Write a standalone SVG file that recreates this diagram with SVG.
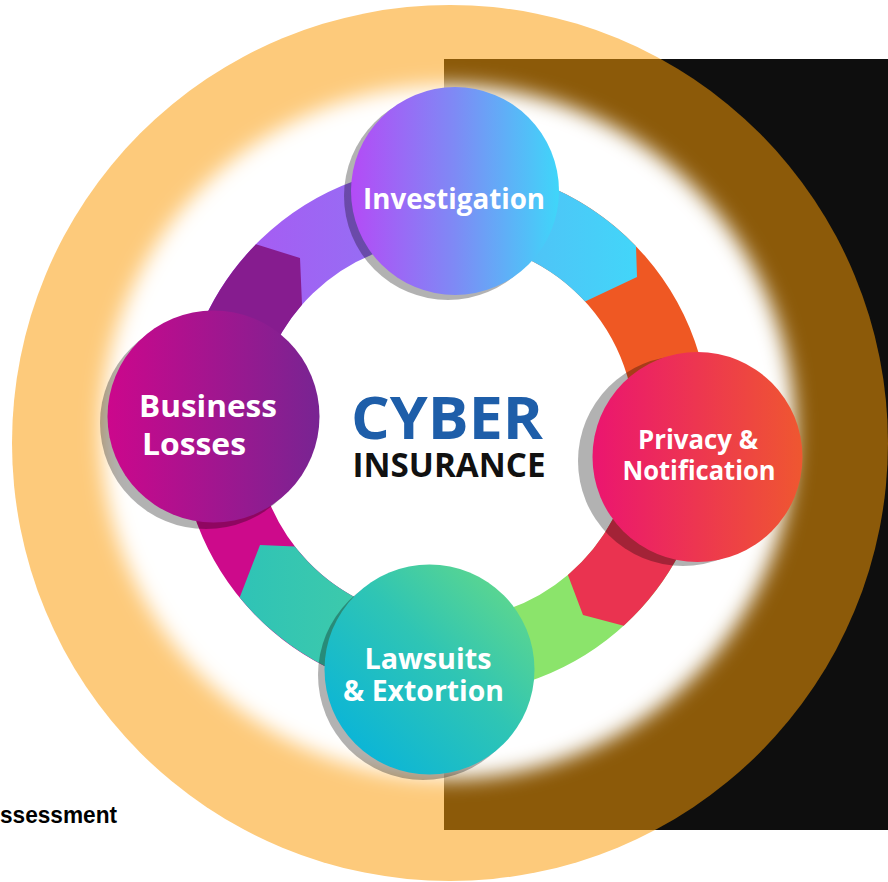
<svg xmlns="http://www.w3.org/2000/svg" width="888" height="882" viewBox="0 0 888 882">
  <defs>
    <style>
      .lbl { font-family: "Open Sans", "Liberation Sans", sans-serif; font-weight: 700; fill: #ffffff; }
      .ctr { font-family: "Open Sans", "Liberation Sans", sans-serif; font-weight: 700; }
      .shadow { fill: #000000; fill-opacity: 0.3; }
    </style>
    <clipPath id="rectClip"><rect x="444" y="59" width="444" height="771"/></clipPath>
    <filter id="soft" x="-20%" y="-20%" width="140%" height="140%"><feGaussianBlur stdDeviation="10"/></filter>
    <linearGradient id="gInv" x1="0" y1="0" x2="1" y2="0">
      <stop offset="0" stop-color="#B44BF6"/>
      <stop offset="0.5" stop-color="#7E8AF5"/>
      <stop offset="1" stop-color="#3FD6F9"/>
    </linearGradient>
    <linearGradient id="gBus" x1="0" y1="0" x2="1" y2="0">
      <stop offset="0" stop-color="#CC078C"/>
      <stop offset="1" stop-color="#782492"/>
    </linearGradient>
    <linearGradient id="gPriv" x1="0" y1="0" x2="1" y2="0">
      <stop offset="0" stop-color="#EB1570"/>
      <stop offset="1" stop-color="#EF5730"/>
    </linearGradient>
    <linearGradient id="gLaw" x1="0" y1="1" x2="1" y2="0">
      <stop offset="0" stop-color="#00B0E2"/>
      <stop offset="0.55" stop-color="#2FC5B4"/>
      <stop offset="1" stop-color="#6CDC82"/>
    </linearGradient>
    <linearGradient id="gViolet" gradientUnits="userSpaceOnUse" x1="220" y1="0" x2="450" y2="0">
      <stop offset="0" stop-color="#AA58F3"/>
      <stop offset="1" stop-color="#8C78F4"/>
    </linearGradient>
    <linearGradient id="gBlue" gradientUnits="userSpaceOnUse" x1="450" y1="0" x2="640" y2="0">
      <stop offset="0" stop-color="#58B6F5"/>
      <stop offset="1" stop-color="#42D6F9"/>
    </linearGradient>
    <linearGradient id="gTeal" gradientUnits="userSpaceOnUse" x1="240" y1="0" x2="430" y2="0">
      <stop offset="0" stop-color="#2FC3B6"/>
      <stop offset="1" stop-color="#46CEA4"/>
    </linearGradient>
  </defs>

  <!-- background -->
  <rect width="888" height="882" fill="#ffffff"/>
  <circle cx="450" cy="443" r="438" fill="#FDCA7B"/>
  <rect x="444" y="59" width="444" height="771" fill="#0E0E0E"/>
  <circle cx="450" cy="443" r="438" fill="#8C5A09" clip-path="url(#rectClip)"/>
  <circle cx="448" cy="432" r="347" fill="#ffffff" filter="url(#soft)"/>

  <!-- connectors: ring segments -->
  <g id="connectors">
    <path d="M217.5,430 A227.5,227.5 0 0 1 452.9,202.6" fill="none" stroke="url(#gViolet)" stroke-width="75"/>
    <path d="M452.9,202.6 A227.5,227.5 0 0 1 671.3,453.8" fill="none" stroke="#EF5823" stroke-width="75"/>
    <path d="M671.3,453.8 A227.5,227.5 0 0 1 433.1,657.2" fill="none" stroke="#8BE46B" stroke-width="75"/>
    <path d="M433.1,657.2 A227.5,227.5 0 0 1 217.5,430" fill="none" stroke="#CD0A8B" stroke-width="75"/>
    <path d="M180,430 A265,265 0 0 1 256,244.3 L300,258 L302,304.8 A190,190 0 0 0 255,430 Z" fill="#861C8F"/>
    <path d="M454.2,165.2 A265,265 0 0 1 636,246.3 L637,277 L585.1,301.6 A190,190 0 0 0 451.6,240.1 Z" fill="url(#gBlue)"/>
    <path d="M708.5,457.7 A265,265 0 0 1 623.7,625.7 L583,615 L567.9,574.9 A190,190 0 0 0 634,449.9 Z" fill="#EA3350"/>
    <path d="M431.1,694.6 A265,265 0 0 1 239.7,597.5 L260,545 L294.9,546.5 A190,190 0 0 0 435.1,619.7 Z" fill="url(#gTeal)"/>
  </g>

  <!-- nodes -->
  <g id="node-investigation">
    <circle class="shadow" cx="448" cy="196" r="104"/>
    <circle cx="455" cy="191" r="104" fill="url(#gInv)"/>
    <text class="lbl" x="454" y="209" font-size="28" text-anchor="middle" textLength="182" lengthAdjust="spacingAndGlyphs">Investigation</text>
  </g>
  <g id="node-business">
    <circle class="shadow" cx="206" cy="423" r="106"/>
    <circle cx="213.5" cy="416.5" r="106" fill="url(#gBus)"/>
    <text class="lbl" x="139" y="417" font-size="31" textLength="138" lengthAdjust="spacingAndGlyphs">Business</text>
    <text class="lbl" x="142" y="455" font-size="31" textLength="104" lengthAdjust="spacingAndGlyphs">Losses</text>
  </g>
  <g id="node-privacy">
    <circle class="shadow" cx="683" cy="461" r="105"/>
    <circle cx="697.5" cy="457" r="105" fill="url(#gPriv)"/>
    <text class="lbl" x="698" y="449" font-size="26" text-anchor="middle" textLength="120" lengthAdjust="spacingAndGlyphs">Privacy &amp;</text>
    <text class="lbl" x="699" y="480" font-size="26" text-anchor="middle" textLength="153" lengthAdjust="spacingAndGlyphs">Notification</text>
  </g>
  <g id="node-lawsuits">
    <circle class="shadow" cx="423" cy="675" r="105"/>
    <circle cx="429.5" cy="669.5" r="105" fill="url(#gLaw)"/>
    <text class="lbl" x="428" y="669" font-size="28" text-anchor="middle" textLength="127" lengthAdjust="spacingAndGlyphs">Lawsuits</text>
    <text class="lbl" x="423.5" y="701" font-size="28" text-anchor="middle" textLength="161" lengthAdjust="spacingAndGlyphs">&amp; Extortion</text>
  </g>
  <g id="node-center">
    <text class="ctr" x="447" y="439" font-size="59" fill="#1E5EA9" text-anchor="middle" textLength="192" lengthAdjust="spacingAndGlyphs">CYBER</text>
    <text class="ctr" x="449" y="477" font-size="34" fill="#111111" text-anchor="middle" textLength="193" lengthAdjust="spacingAndGlyphs">INSURANCE</text>
  </g>

  <text x="0" y="823" font-family="'Liberation Sans', Arial, sans-serif" font-weight="700" font-size="24" fill="#000000" textLength="117" lengthAdjust="spacingAndGlyphs">ssessment</text>
</svg>
